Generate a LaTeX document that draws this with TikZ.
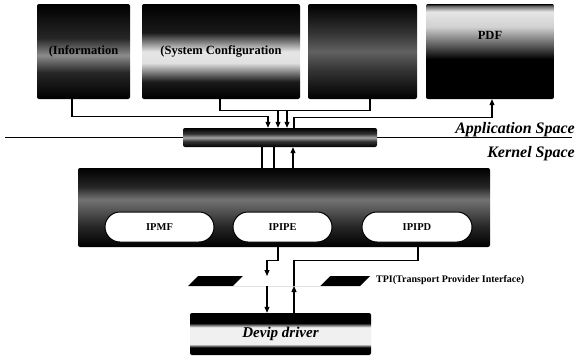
\documentclass[tikz,border=0pt]{standalone}
\usepackage{fontspec}
\setmainfont{Liberation Serif}
\usepackage{tikz}
\usetikzlibrary{arrows.meta, calc}

% vertical shadings: 25bp = bottom of the shape, 75bp = top
\pgfdeclareverticalshading{infoband}{100bp}{color(0bp)=(black); color(25bp)=(black); color(39bp)=(black!85); color(48bp)=(black!45); color(57bp)=(black!85); color(75bp)=(black); color(100bp)=(black)}
\pgfdeclareverticalshading{sysband}{100bp}{color(0bp)=(black); color(25bp)=(black); color(34bp)=(black!90); color(44bp)=(black!12); color(50bp)=(black!10); color(60bp)=(black!90); color(75bp)=(black); color(100bp)=(black)}
\pgfdeclareverticalshading{midband}{100bp}{color(0bp)=(black); color(25bp)=(black); color(40bp)=(black!80); color(50bp)=(black!62); color(60bp)=(black!80); color(75bp)=(black); color(100bp)=(black)}
\pgfdeclareverticalshading{pdfband}{100bp}{color(0bp)=(black); color(25bp)=(black); color(46bp)=(black); color(52bp)=(black!70); color(63bp)=(black!18); color(71bp)=(black!10); color(74bp)=(black!60); color(75bp)=(black); color(100bp)=(black)}
\pgfdeclareverticalshading{barband}{100bp}{color(0bp)=(black); color(25bp)=(black); color(40bp)=(black!80); color(50bp)=(black!35); color(60bp)=(black!80); color(75bp)=(black); color(100bp)=(black)}
\pgfdeclareverticalshading{modband}{100bp}{color(0bp)=(black); color(25bp)=(black); color(38bp)=(black!85); color(55bp)=(black!55); color(63bp)=(black!85); color(75bp)=(black); color(100bp)=(black)}
\pgfdeclareverticalshading{drvband}{100bp}{color(0bp)=(black); color(25bp)=(black); color(34bp)=(black); color(38bp)=(black!6); color(58bp)=(black!6); color(63bp)=(black); color(75bp)=(black); color(100bp)=(black)}

\begin{document}
\begin{tikzpicture}[
  x=1pt, y=-1pt,
  app/.style={shade, rounded corners=2pt, minimum height=95pt,
              font=\bfseries\fontsize{12.5}{15}\selectfont},
  sockbox/.style={shade, shading=barband, rounded corners=2pt,
                  minimum width=194pt, minimum height=19pt},
  modbox/.style={shade, shading=modband, rounded corners=2pt,
                 minimum width=412pt, minimum height=79pt},
  mod/.style={draw=black, line width=1pt, fill=white, rounded corners=15pt,
              minimum height=30pt, font=\bfseries\fontsize{10.5}{12}\selectfont},
  drvbox/.style={shade, shading=drvband, rounded corners=2pt,
                 minimum width=181pt, minimum height=42pt,
                 font=\bfseries\itshape\fontsize{15}{17}\selectfont},
  space/.style={font=\bfseries\itshape\fontsize{16}{18}\selectfont, anchor=base east, inner sep=0pt},
  tpilbl/.style={font=\bfseries\fontsize{10}{12}\selectfont, anchor=west, inner sep=0pt},
  wire/.style={line width=1.1pt},
  arr/.style={-{Triangle[length=6pt,width=5pt]}, line width=1.1pt}
]
  \useasboundingbox (0,0) rectangle (577,356);

  % application boxes
  \node[app, shading=infoband, minimum width=93pt] (info) at (83.5,51.5) {(Information};
  \node[app, shading=sysband, minimum width=158pt] (sysconf) at (221,51.5) {(System Configuration};
  \node[app, shading=midband, minimum width=109pt] (util) at (362.5,51.5) {};
  \node[app, shading=pdfband, minimum width=128pt] (pdf) at (490,51.5) {};
  \node[font=\bfseries\fontsize{12.5}{15}\selectfont] (pdflbl) at ([yshift=16.5pt]pdf.center) {PDF};

  % socket layer and the user/kernel border
  \node[sockbox] (sock) at (280,137.5) {};
  \coordinate (lineL) at (5,137.5);
  \coordinate (lineR) at (572,137.5);
  \draw[wire] (lineL) -- (sock.west);
  \draw[wire] (sock.east) -- (lineR);
  \node[space] (appsp) at (575,133) {Application Space};
  \node[space] (kernsp) at (575,157) {Kernel Space};

  % kernel modules
  \node[modbox] (kern) at (284,207.5) {};
  \node[mod, minimum width=109pt] (ipmf) at (159.5,227) {IPMF};
  \node[mod, minimum width=99pt] (ipipe) at (282.5,227) {IPIPE};
  \node[mod, minimum width=110pt] (ipipd) at (417,227) {IPIPD};

  % TPI strip
  \coordinate (tpiN) at (279,276);
  \coordinate (tpiS) at (279,286);
  \fill (188,286) -- (198,276) -- (370,276) -- (360,286) -- cycle;
  \fill[white] (233,286) -- (243,276) -- (330,276) -- (320,286) -- cycle;
  \node[tpilbl] (tpitxt) at (376,280) {TPI(Transport Provider Interface)};

  % driver
  \node[drvbox] (drv) at (280.5,334) {Devip driver};

  % connectors, top part
  \draw[arr] ([xshift=-11.5pt]info.south) |- ([xshift=-12pt,yshift=11pt]sock.north) -- ([xshift=-12pt]sock.north);
  \draw[wire] ([xshift=-1pt]sysconf.south) |- ([xshift=7.5pt,yshift=-11pt]util.south) -- ([xshift=7.5pt]util.south);
  \draw[arr] ([xshift=-2pt,yshift=18pt]sock.north) -- ([xshift=-2pt]sock.north);
  \draw[arr] ([xshift=7pt,yshift=18pt]sock.north) -- ([xshift=7pt]sock.north);
  \draw[arr] ([xshift=14pt]sock.north) |- ([xshift=2pt,yshift=-18pt]pdf.south) -- ([xshift=2pt]pdf.south);

  % socket <-> modules
  \draw[wire] ([xshift=-18pt]sock.south) -- ([xshift=-22pt]kern.north);
  \draw[wire] ([xshift=-6pt]sock.south) -- ([xshift=-10pt]kern.north);
  \draw[arr] ([xshift=9pt]kern.north) -- ([xshift=13pt]sock.south);

  % modules <-> TPI <-> driver
  \draw[arr] ([xshift=-4.5pt]ipipe.south) -- ++(0,18) -| ([xshift=-12pt]tpiN);
  \draw[wire] ([xshift=1pt]ipipd.south) -- ++(0,18) -| ([xshift=15pt]tpiS);
  \draw[arr] ([xshift=-12pt]tpiS) -- ([xshift=-13.5pt]drv.north);
  \draw[arr] ([xshift=13.5pt]drv.north) -- ([xshift=15pt]tpiS);
\end{tikzpicture}
\end{document}
